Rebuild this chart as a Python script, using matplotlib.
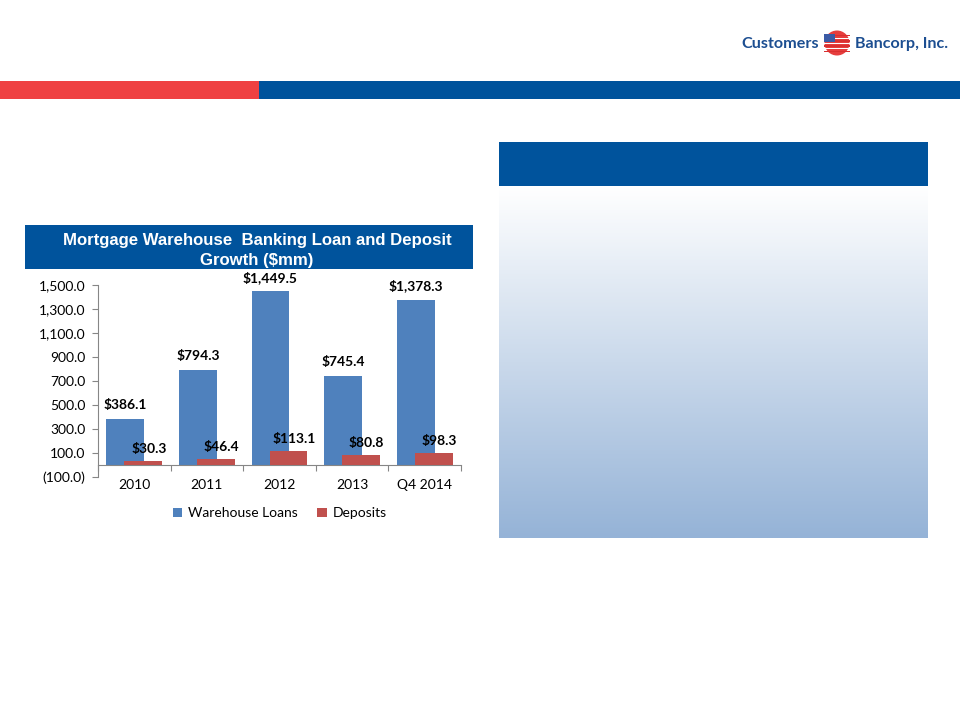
import numpy as np
import matplotlib
matplotlib.use("Agg")
import matplotlib.pyplot as plt
from matplotlib.patches import Rectangle, Circle
from matplotlib.ticker import FuncFormatter, FixedLocator
import matplotlib.transforms as mtransforms

# ---- data ----
categories = ["2010", "2011", "2012", "2013", "Q4 2014"]
warehouse_loans = [386.1, 794.3, 1449.5, 745.4, 1378.3]
deposits = [30.3, 46.4, 113.1, 80.8, 98.3]
series_names = ["Warehouse Loans", "Deposits"]
y_ticks = [-100, 100, 300, 500, 700, 900, 1100, 1300, 1500]
title_line1 = "Mortgage Warehouse  Banking Loan and Deposit"
title_line2 = "Growth ($mm)"

BLUE = "#4F81BD"
RED = "#C0504D"
NAVY = "#00539C"
STRIPE_RED = "#EF4142"
LOGO_BLUE = "#1C4E91"

W, H = 960, 720
fig = plt.figure(figsize=(W / 100, H / 100), dpi=100)
fig.patch.set_facecolor("white")

# background / slide decoration axes in pixel coordinates
bg = fig.add_axes([0, 0, 1, 1])
bg.set_xlim(0, W)
bg.set_ylim(H, 0)
bg.axis("off")

# top stripes
bg.add_patch(Rectangle((0, 81), 259, 18, color=STRIPE_RED, lw=0))
bg.add_patch(Rectangle((259, 81), W - 259, 18, color=NAVY, lw=0))

# logo
bg.text(819, 44, "Customers", ha="right", va="center", fontsize=11.6,
        fontweight="bold", color=LOGO_BLUE, family="Lato")
bg.add_patch(Circle((837, 43), 12.5, color="#E63E3E", lw=0))
for i in range(7):
    bg.add_patch(Rectangle((824, 35 + i * 2.6), 26, 1.3,
                           color="white" if i % 2 else "#D83030", lw=0))
bg.add_patch(Rectangle((824, 34), 11, 8, color="#3B5BA5", lw=0))
bg.text(855, 44, "Bancorp, Inc.", ha="left", va="center", fontsize=11.6,
        fontweight="bold", color=LOGO_BLUE, family="Lato")

# right panel: header + gradient
bg.add_patch(Rectangle((499, 142), 429, 44, color=NAVY, lw=0))
grad = np.linspace(0, 1, 256).reshape(-1, 1)
top = np.array([1.0, 1.0, 1.0])
bot = np.array([0x95, 0xB3, 0xD7]) / 255.0
img = top + (bot - top) * grad[..., None]
img = img.reshape(256, 1, 3)
bg.imshow(img, extent=[499, 928, 538, 186], aspect="auto", zorder=1)
bg.set_xlim(0, W)
bg.set_ylim(H, 0)

# chart title box
bg.add_patch(Rectangle((25, 225), 448, 44, color=NAVY, lw=0))
bg.text(257, 240, title_line1, ha="center", va="center", fontsize=12.1,
        fontweight="bold", color="white", family="Liberation Sans")
bg.text(257, 260, title_line2, ha="center", va="center", fontsize=12.1,
        fontweight="bold", color="white", family="Liberation Sans")

# ---- chart ----
ax_left, ax_right = 98, 461
ax_top, ax_bot = 285, 477
ax = fig.add_axes([ax_left / W, (H - ax_bot) / H,
                   (ax_right - ax_left) / W, (ax_bot - ax_top) / H])
ax.set_facecolor("none")

x = np.arange(len(categories))
bw = 0.52
off = 0.125
ax.bar(x - off, warehouse_loans, bw, color=BLUE, label=series_names[0], zorder=2)
ax.bar(x + off, deposits, bw, color=RED, label=series_names[1], zorder=3)

lab_font = dict(fontsize=10, fontweight="bold", family="Lato", color="black")
for xi, v in zip(x, warehouse_loans):
    ax.annotate(f"${v:,.1f}", (xi - off, v), xytext=(0, 10),
                textcoords="offset points", ha="center", va="center", **lab_font)
for xi, v in zip(x, deposits):
    ax.annotate(f"${v:,.1f}", (xi + off, v), xytext=(4, 9),
                textcoords="offset points", ha="center", va="center", **lab_font)

ax.set_xlim(-0.5, len(categories) - 0.5)
ax.set_ylim(-100, 1500)

for s in ["top", "right"]:
    ax.spines[s].set_visible(False)
ax.spines["left"].set_color("#868686")
ax.spines["bottom"].set_color("#868686")
ax.spines["bottom"].set_position(("data", 0))

ax.yaxis.set_major_locator(FixedLocator(y_ticks))
ax.yaxis.set_major_formatter(FuncFormatter(
    lambda v, p: f"({abs(v):,.1f})" if v < 0 else f"{v:,.1f}"))
ax.tick_params(axis="y", direction="out", length=4, color="#868686",
               labelsize=10, pad=5)
for t in ax.get_yticklabels():
    t.set_family("Lato")

ax.set_xticks(np.arange(-0.5, len(categories), 1.0))
ax.tick_params(axis="x", direction="out", length=4, color="#868686",
               labelbottom=False)
trans = mtransforms.blended_transform_factory(ax.transData, ax.transAxes)
for xi, c in zip(x, categories):
    ax.text(xi, -0.04, c, transform=trans, ha="center", va="center",
            fontsize=10, family="Lato")

leg = ax.legend(loc="center", bbox_to_anchor=(0.5, -0.19), ncol=2,
                frameon=False, prop={"family": "Lato", "size": 10},
                handlelength=0.7, handleheight=0.7, handletextpad=0.4,
                columnspacing=1.4)

fig.savefig("out.png", dpi=100, facecolor="white")
